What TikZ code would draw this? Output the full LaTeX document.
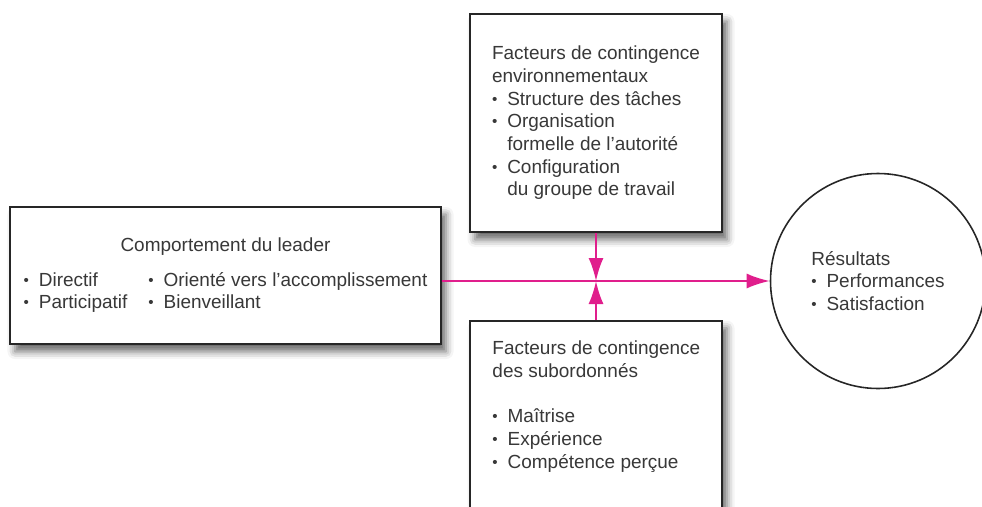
\documentclass[tikz,border=0pt]{standalone}
\usepackage{fontspec}
\setmainfont{Liberation Sans}
\usetikzlibrary{positioning,arrows.meta,shadows.blur}
\definecolor{flowpink}{RGB}{224,30,140}
\newcommand{\itm}{\makebox[0.8em][l]{\raisebox{0.1ex}{\scalebox{0.8}{\textbullet}}}}
\newcommand{\cnt}{\hspace*{0.8em}}

\begin{document}
\begin{tikzpicture}[
  node distance=1.74cm,
  box/.style={draw=black!85, line width=1pt, fill=white, inner sep=0pt,
    blur shadow={shadow xshift=0.1cm, shadow yshift=-0.15cm, shadow blur radius=0.15cm, shadow opacity=60}},
  txt/.style={font=\fontsize{10.8}{12.9}\selectfont, text=black!78, align=left},
  flow/.style={draw=flowpink, line width=1.1pt},
  >={Latex[length=0.46cm, width=0.3cm]}
]
\useasboundingbox (0,0) rectangle (19.64,10.12);

\coordinate (X) at (11.92,4.5);

\node[box, txt, minimum width=8.62cm, minimum height=2.74cm] (lead) at (4.51,4.61)
  {\begin{tabular}{@{}l@{\hspace{0.42cm}}l@{}}
     \multicolumn{2}{c}{Comportement du leader}\\[7pt]
     \itm Directif & \itm Orienté vers l'accomplissement\\
     \itm Participatif & \itm Bienveillant
   \end{tabular}};

\node[box, txt, minimum width=5.04cm, minimum height=4.36cm] (env) at (11.92,7.66)
  {Facteurs de contingence\\
   environnementaux\\
   \itm Structure des tâches\\
   \itm Organisation\\
   \cnt formelle de l'autorité\\
   \itm Configuration\\
   \cnt du groupe de travail};

\node[box, minimum width=5.04cm, minimum height=4.2cm, below=of env] (sub) {};
\node[txt, inner sep=0pt, below right=0.42cm and 0.46cm of sub.north west] (subtxt)
  {Facteurs de contingence\\
   des subordonnés\\[12.9pt]
   \itm Maîtrise\\
   \itm Expérience\\
   \itm Compétence perçue};

\node[draw=black!85, line width=0.9pt, circle, minimum size=4.3cm, txt] (res) at (17.56,4.5)
  {Résultats\\
   \itm Performances\\
   \itm Satisfaction};

\draw[flow, ->] (lead.east |- X) -- (res.west);
\draw[flow, ->] (env.south -| X) -- (X);
\draw[flow, ->] (sub.north -| X) -- (X);

\end{tikzpicture}
\end{document}
